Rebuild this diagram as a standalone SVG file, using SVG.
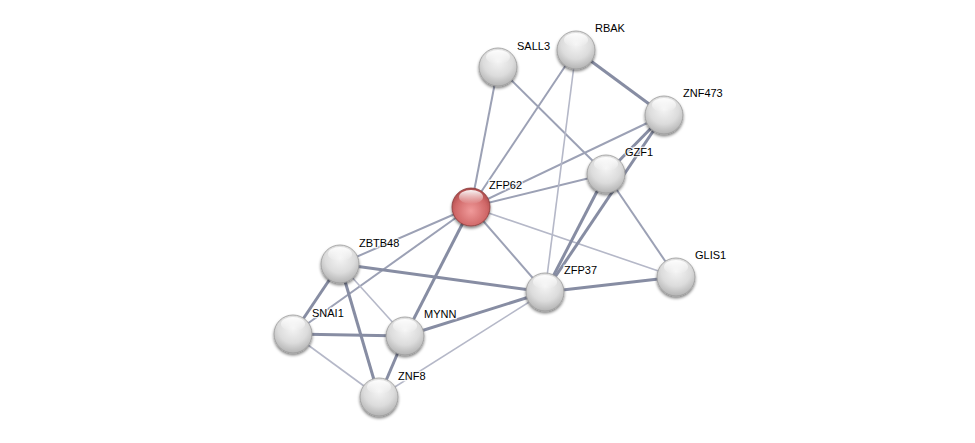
<svg xmlns="http://www.w3.org/2000/svg" width="975" height="443" viewBox="0 0 975 443">
<defs>
<radialGradient id="g" cx="0.5" cy="0.35" r="0.65">
<stop offset="0" stop-color="#f4f4f4"/>
<stop offset="0.6" stop-color="#dcdcdc"/>
<stop offset="1" stop-color="#b4b4b4"/>
</radialGradient>
<radialGradient id="r" cx="0.5" cy="0.6" r="0.6">
<stop offset="0" stop-color="#f09a9a"/>
<stop offset="0.7" stop-color="#d06868"/>
<stop offset="1" stop-color="#a84848"/>
</radialGradient>
<linearGradient id="hl" x1="0" y1="0" x2="0" y2="1">
<stop offset="0" stop-color="#fff" stop-opacity="0.95"/>
<stop offset="1" stop-color="#fff" stop-opacity="0"/>
</linearGradient>
<filter id="sh" x="-30%" y="-30%" width="160%" height="160%">
<feGaussianBlur in="SourceAlpha" stdDeviation="1.5"/>
<feOffset dx="0" dy="2" result="b"/>
<feComponentTransfer><feFuncA type="linear" slope="0.5"/></feComponentTransfer>
<feMerge><feMergeNode/><feMergeNode in="SourceGraphic"/></feMerge>
</filter>
</defs>
<style>
.e{stroke:#9ca1b5;stroke-width:2;fill:none}
.t{stroke:#878da3;stroke-width:3}
.w{stroke:#b5b8c8;stroke-width:1.6}
.n{fill:url(#g);stroke:#9a9a9a;stroke-width:0.8;filter:url(#sh)}
.nr{fill:url(#r);stroke:#8a3a3a;stroke-width:0.8;filter:url(#sh)}
.h{fill:url(#hl)}
text{font-family:"Liberation Sans",Arial,sans-serif;font-size:11px;fill:#000;paint-order:stroke;stroke:#fff;stroke-width:2.5px;stroke-opacity:0.8}
</style>
<rect width="975" height="443" fill="#fff"/>
<g id="edges">
<line class="e" x1="471" y1="207" x2="498" y2="67"/>
<line class="e" x1="471" y1="207" x2="576" y2="50"/>
<line class="e" x1="471" y1="207" x2="664" y2="115"/>
<line class="e" x1="471" y1="207" x2="606" y2="174"/>
<line class="e w" x1="471" y1="207" x2="676" y2="277"/>
<line class="e" x1="471" y1="207" x2="545" y2="292"/>
<line class="e" x1="471" y1="207" x2="340" y2="264"/>
<line class="e" x1="471" y1="207" x2="293" y2="334"/>
<line class="e t" x1="471" y1="207" x2="405" y2="336"/>
<line class="e" x1="498" y1="67" x2="606" y2="174"/>
<line class="e t" x1="576" y1="50" x2="664" y2="115"/>
<line class="e w" x1="576" y1="50" x2="545" y2="292"/>
<line class="e t" x1="664" y1="115" x2="606" y2="174"/>
<line class="e t" x1="664" y1="115" x2="545" y2="292"/>
<line class="e t" x1="606" y1="174" x2="545" y2="292"/>
<line class="e" x1="606" y1="174" x2="676" y2="277"/>
<line class="e t" x1="545" y1="292" x2="676" y2="277"/>
<line class="e t" x1="340" y1="264" x2="545" y2="292"/>
<line class="e t" x1="340" y1="264" x2="293" y2="334"/>
<line class="e w" x1="340" y1="264" x2="405" y2="336"/>
<line class="e t" x1="340" y1="264" x2="379" y2="397"/>
<line class="e t" x1="293" y1="334" x2="405" y2="336"/>
<line class="e w" x1="293" y1="334" x2="379" y2="397"/>
<line class="e t" x1="405" y1="336" x2="379" y2="397"/>
<line class="e t" x1="405" y1="336" x2="545" y2="292"/>
<line class="e w" x1="379" y1="397" x2="545" y2="292"/>
</g>
<g id="SALL3"><circle class="n" cx="498" cy="67" r="19"/><ellipse class="h" cx="498" cy="57" rx="12" ry="7"/><text x="517" y="50">SALL3</text></g>
<g id="RBAK"><circle class="n" cx="576" cy="50" r="19"/><ellipse class="h" cx="576" cy="40" rx="12" ry="7"/><text x="595" y="32">RBAK</text></g>
<g id="ZNF473"><circle class="n" cx="664" cy="115" r="19"/><ellipse class="h" cx="664" cy="105" rx="12" ry="7"/><text x="683" y="97">ZNF473</text></g>
<g id="GZF1"><circle class="n" cx="606" cy="174" r="19"/><ellipse class="h" cx="606" cy="164" rx="12" ry="7"/><text x="625" y="156">GZF1</text></g>
<g id="ZFP62"><circle class="nr" cx="471" cy="207" r="19"/><ellipse class="h" cx="471" cy="197" rx="12" ry="7"/><text x="489" y="189">ZFP62</text></g>
<g id="ZBTB48"><circle class="n" cx="340" cy="264" r="19"/><ellipse class="h" cx="340" cy="254" rx="12" ry="7"/><text x="359" y="247">ZBTB48</text></g>
<g id="GLIS1"><circle class="n" cx="676" cy="277" r="19"/><ellipse class="h" cx="676" cy="267" rx="12" ry="7"/><text x="695" y="259">GLIS1</text></g>
<g id="ZFP37"><circle class="n" cx="545" cy="292" r="19"/><ellipse class="h" cx="545" cy="282" rx="12" ry="7"/><text x="564" y="274">ZFP37</text></g>
<g id="SNAI1"><circle class="n" cx="293" cy="334" r="19"/><ellipse class="h" cx="293" cy="324" rx="12" ry="7"/><text x="312" y="317">SNAI1</text></g>
<g id="MYNN"><circle class="n" cx="405" cy="336" r="19"/><ellipse class="h" cx="405" cy="326" rx="12" ry="7"/><text x="424" y="318">MYNN</text></g>
<g id="ZNF8"><circle class="n" cx="379" cy="397" r="19"/><ellipse class="h" cx="379" cy="387" rx="12" ry="7"/><text x="398" y="380">ZNF8</text></g>
</svg>
